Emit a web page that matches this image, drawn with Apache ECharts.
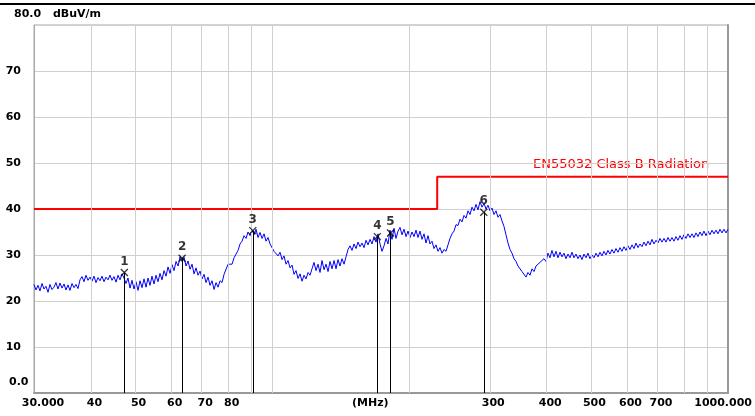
<!DOCTYPE html>
<html>
<head>
<meta charset="utf-8">
<script src="https://cdn.jsdelivr.net/npm/echarts@6/dist/echarts.min.js"></script>
<style>
  html, body { margin: 0; padding: 0; background: #fff; }
  #chart { width: 755px; height: 416px; }
</style>
</head>
<body>
<div id="chart"></div>
<script>
const trace = [
  [30.00,23.6],[30.30,22.4],[30.61,23.4],[30.92,22.2],[31.24,23.8],[31.55,22.6],[31.87,23.2],[32.20,21.9],
  [32.52,23.6],[32.85,22.5],[33.19,23.0],[33.52,24.0],[33.86,22.6],[34.21,23.9],[34.56,22.8],[34.91,23.7],
  [35.26,22.4],[35.62,23.5],[35.98,22.3],[36.35,23.8],[36.72,22.9],[37.09,23.6],[37.47,22.7],[37.85,24.6],
  [38.23,25.3],[38.62,24.2],[39.01,25.6],[39.41,24.5],[39.81,25.2],[40.21,24.3],[40.62,25.4],[41.03,24.0],
  [41.45,25.1],[41.87,24.4],[42.30,25.4],[42.73,24.2],[43.16,25.2],[43.60,24.6],[44.04,25.6],[44.49,24.5],
  [44.94,25.3],[45.40,24.1],[45.86,25.6],[46.32,24.6],[46.80,25.9],[47.27,25.0],[47.75,23.8],[48.23,25.0],
  [48.73,22.8],[49.22,24.5],[49.72,22.6],[50.22,24.2],[50.74,22.3],[51.25,24.4],[51.77,22.9],[52.30,24.8],
  [52.83,23.0],[53.36,25.0],[53.91,23.4],[54.45,25.4],[55.01,23.7],[55.56,25.6],[56.13,24.2],[56.70,26.0],
  [57.28,24.6],[57.86,26.6],[58.45,25.4],[59.04,27.4],[59.64,26.0],[60.25,27.9],[60.86,26.6],[61.48,28.6],
  [62.11,27.6],[62.74,29.6],[63.37,28.6],[64.02,29.5],[64.67,27.6],[65.32,28.7],[65.99,26.9],[66.66,28.0],
  [67.34,25.9],[68.02,27.2],[68.71,25.6],[69.41,26.5],[70.11,24.8],[70.82,25.8],[71.54,24.0],[72.27,25.2],
  [73.00,23.4],[73.74,24.4],[74.50,22.5],[75.25,24.0],[76.02,23.0],[76.79,24.4],[77.57,24.0],[78.36,25.8],
  [79.15,25.6],[79.96,28.0],[80.77,28.4],[81.59,28.0],[82.42,29.4],[83.25,30.2],[84.10,31.0],[84.95,32.4],
  [85.81,33.0],[86.68,34.2],[87.56,33.6],[88.45,35.0],[89.35,34.2],[90.26,35.4],[91.18,34.4],[92.10,35.6],
  [93.04,33.8],[93.98,34.9],[94.94,33.6],[95.90,34.6],[96.87,33.0],[97.86,33.8],[98.85,32.4],[99.85,32.8],
  [100.87,30.8],[101.89,31.2],[102.93,29.8],[103.97,30.6],[105.03,29.0],[106.09,29.8],[107.17,28.0],[108.26,28.8],
  [109.36,27.2],[110.47,27.8],[111.59,25.8],[112.72,26.6],[113.87,24.9],[115.02,25.9],[116.19,24.3],[117.37,25.6],
  [118.56,24.8],[119.76,26.2],[120.98,25.6],[122.21,27.0],[123.45,28.4],[124.70,26.6],[125.97,28.0],[127.25,26.2],
  [128.54,28.8],[129.84,26.8],[131.17,28.0],[132.50,26.4],[133.84,28.6],[135.20,27.0],[136.58,28.8],[137.96,27.0],
  [139.36,29.0],[140.78,27.6],[142.21,29.2],[143.65,28.0],[145.11,29.6],[146.58,31.2],[148.07,32.0],[149.57,31.0],
  [151.09,32.4],[152.63,31.4],[154.18,32.8],[155.74,31.8],[157.32,32.6],[158.92,31.6],[160.53,33.2],[162.16,32.2],
  [163.81,33.4],[165.47,32.4],[167.15,34.0],[168.85,32.8],[170.56,34.6],[172.30,32.4],[174.05,30.8],[175.81,32.0],
  [177.60,33.6],[179.40,32.4],[181.22,35.4],[183.06,33.4],[184.92,35.8],[186.80,33.6],[188.70,35.2],[190.61,36.0],
  [192.55,34.4],[194.50,35.6],[196.48,34.0],[198.47,35.2],[200.49,33.8],[202.52,35.0],[204.58,34.0],[206.65,35.4],
  [208.75,33.8],[210.87,35.2],[213.01,33.4],[215.17,34.6],[217.36,32.6],[219.57,34.2],[221.80,32.4],[224.05,33.0],
  [226.32,31.4],[228.62,32.2],[230.94,30.8],[233.29,31.6],[235.66,30.4],[238.05,31.2],[240.47,30.8],[242.91,32.2],
  [245.37,33.6],[247.87,34.6],[250.38,35.2],[252.92,36.6],[255.49,36.4],[258.09,37.8],[260.71,37.2],[263.35,38.6],
  [266.03,38.0],[268.73,39.6],[271.46,38.8],[274.21,40.4],[277.00,39.6],[279.81,41.0],[282.65,39.8],[285.52,41.6],
  [288.42,40.4],[291.35,41.2],[294.31,40.0],[297.30,40.8],[300.31,39.6],[303.37,40.2],[306.44,38.8],[309.56,39.6],
  [312.70,38.2],[315.87,38.8],[319.08,37.4],[322.32,36.2],[325.59,34.4],[328.90,32.6],[332.24,31.2],[335.61,30.4],
  [339.02,29.2],[342.46,28.6],[345.94,27.6],[349.45,27.8],[353.00,26.4],[356.58,26.8],[360.20,25.2],[363.86,26.2],
  [367.56,25.6],[371.29,27.0],[375.06,26.4],[378.87,27.6],[382.71,27.2],[386.60,28.4],[390.52,28.0],[394.49,29.2],
  [398.49,28.6],[402.54,30.4],[406.6,29.4],[410.7,31.0],[414.9,29.6],[419.1,30.8],[423.4,29.4],[427.7,30.6],
  [432.0,29.6],[436.4,30.4],[440.8,29.2],[445.3,30.2],[449.8,29.4],[454.4,30.6],[459.0,29.4],[463.7,30.2],
  [468.4,29.2],[473.1,30.0],[477.9,29.0],[482.8,30.2],[487.7,29.4],[492.6,30.4],[497.6,29.2],[502.7,30.0],
  [507.8,29.4],[512.9,30.4],[518.2,29.6],[523.4,30.6],[528.7,29.8],[534.1,30.8],[539.5,30.0],[545.0,31.0],
  [550.5,30.2],[556.1,31.2],[561.8,30.4],[567.5,31.4],[573.3,30.6],[579.1,31.6],[585.0,30.8],[590.9,31.8],
  [596.9,31.0],[603.0,32.0],[609.1,31.2],[615.3,32.2],[621.5,31.4],[627.8,32.6],[634.2,31.6],[640.7,32.4],
  [647.2,31.8],[653.7,32.8],[660.4,32.0],[667.1,33.0],[673.9,32.2],[680.7,33.4],[687.6,32.4],[694.6,33.2],
  [701.6,32.6],[708.8,33.6],[716.0,32.8],[723.2,33.6],[730.6,32.8],[738.0,33.8],[745.5,33.0],[753.1,33.8],
  [760.7,33.0],[768.4,34.0],[776.2,33.2],[784.1,34.2],[792.1,33.4],[800.1,34.4],[808.3,33.6],[816.5,34.6],
  [824.8,33.8],[833.2,34.6],[841.6,33.8],[850.2,34.8],[858.8,34.0],[867.5,35.0],[876.3,34.2],[885.2,35.2],
  [894.2,34.2],[903.3,35.2],[912.4,34.4],[921.7,35.4],[931.0,34.6],[940.5,35.4],[950.0,34.6],[959.7,35.6],
  [969.4,34.8],[979.2,35.6],[989.2,34.8],[999.2,35.6]
];

// EN55032 class B limit (3 m)
const limitFreq = [30, 230, 230, 1000];
const limitLevel = [40, 40, 47, 47];

// peak markers
const markerNames = ['1', '2', '3', '4', '5', '6'];
const markerFreq = [47.35, 63.4, 90.6, 170.0, 181.7, 291.0];
const markerLevel = [26.2, 29.3, 35.3, 34.0, 34.8, 39.3];

// axis ticks
const gridFreq = [40, 50, 60, 70, 80, 90, 100, 200, 300, 400, 500, 600, 700, 800, 900];
const labelFreq = [30, 40, 50, 60, 70, 80, 300, 400, 500, 600, 700, 1000];

const FONT = 'DejaVu Sans';
const gridColor = '#d0d0d0';

const chart = echarts.init(document.getElementById('chart'), null, { renderer: 'canvas' });

const labelStyle = { fontFamily: FONT, fontWeight: 'bold', fontSize: 11, color: '#000' };

chart.setOption({
  animation: false,
  backgroundColor: '#fff',
  grid: { left: 34, right: 26, top: 25, bottom: 23, show: true, borderColor: '#a8a8a8', borderWidth: 1 },
  xAxis: {
    type: 'log',
    logBase: 10,
    min: 30,
    max: 1000,
    axisLine: { show: true, lineStyle: { color: '#999', width: 2 } },
    axisTick: { show: false },
    splitLine: { show: false },
    axisLabel: {
      customValues: labelFreq,
      margin: 5,
      showMinLabel: true,
      showMaxLabel: true,
      hideOverlap: false,
      formatter: v => {
        const r = Math.round(v);
        if (r === 30) return '{l|30.000}';
        if (r === 1000) return '{r|1000.000}';
        return '{n|' + r + '}';
      },
      rich: {
        l: Object.assign({ padding: [0, 0, 0, 18] }, labelStyle),
        r: Object.assign({ padding: [0, 10, 0, 0] }, labelStyle),
        n: Object.assign({ padding: [0, 0, 0, 7] }, labelStyle)
      }
    }
  },
  yAxis: [{
    type: 'value',
    min: 0,
    max: 80,
    interval: 10,
    axisLine: { show: true, lineStyle: { color: '#a8a8a8', width: 1 } },
    axisTick: { show: false },
    splitLine: { show: true, lineStyle: { color: gridColor, width: 1 } },
    axisLabel: Object.assign({
      margin: 13,
      formatter: v => (v === 0 || v === 80) ? '' : String(v)
    }, labelStyle)
  }, {
    type: 'value',
    position: 'right',
    min: 0,
    max: 80,
    axisLine: { show: true, lineStyle: { color: '#999', width: 2 } },
    axisTick: { show: false },
    axisLabel: { show: false },
    splitLine: { show: false }
  }],
  series: [
    {
      // vertical grid lines
      type: 'line',
      data: [],
      silent: true,
      z: 1,
      markLine: {
        silent: true,
        symbol: 'none',
        animation: false,
        label: { show: false },
        lineStyle: { color: gridColor, type: 'solid', width: 1 },
        data: gridFreq.map(f => ({ xAxis: f }))
      }
    },
    {
      name: 'limit',
      type: 'line',
      data: limitFreq.map((f, i) => [f, limitLevel[i]]),
      symbol: 'none',
      z: 3,
      lineStyle: { color: '#ff0000', width: 2 }
    },
    {
      name: 'scan',
      type: 'line',
      data: trace,
      symbol: 'none',
      z: 4,
      lineStyle: { color: '#0000ff', width: 1 }
    },
    {
      name: 'markers',
      type: 'scatter',
      data: markerFreq.map((f, i) => [f, markerLevel[i]]),
      symbol: 'path://M0,0L10,10M10,0L0,10',
      symbolSize: 7,
      z: 5,
      itemStyle: { color: 'none', borderColor: '#000', borderWidth: 1.3 },
      label: {
        show: true,
        position: 'top',
        distance: -1,
        formatter: p => markerNames[p.dataIndex],
        fontFamily: FONT,
        fontWeight: 'bold',
        fontSize: 12,
        color: '#000'
      },
      markLine: {
        silent: true,
        symbol: 'none',
        animation: false,
        label: { show: false },
        lineStyle: { color: '#000', type: 'solid', width: 1 },
        data: markerFreq.map((f, i) => [{ coord: [f, 0] }, { coord: [f, markerLevel[i]] }])
      }
    }
  ],
  graphic: [
    { type: 'rect', left: 0, top: 3, shape: { width: 755, height: 2 }, style: { fill: '#000' } },
    { type: 'text', left: 14, top: 9, style: { text: '80.0', font: 'bold 11px ' + FONT, fill: '#000' } },
    { type: 'text', left: 53, top: 9, style: { text: 'dBuV/m', font: 'bold 11px ' + FONT, fill: '#000' } },
    { type: 'text', left: 9, top: 377, style: { text: '0.0', font: 'bold 11px ' + FONT, fill: '#000' } },
    { type: 'text', left: 352, top: 398, style: { text: '(MHz)', font: 'bold 11px ' + FONT, fill: '#000' } },
    { type: 'text', left: 533, top: 158, style: { text: 'EN55032 Class B Radiation', font: '13px ' + FONT, fill: '#ff0000' } }
  ]
});
</script>
</body>
</html>
